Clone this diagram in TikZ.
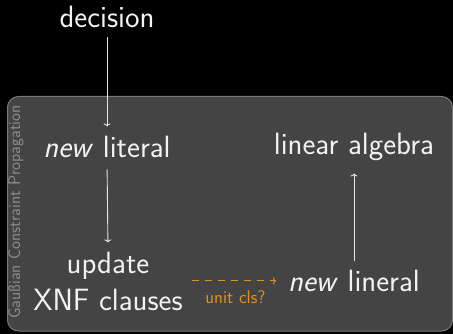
\documentclass[tikz,border=0pt]{standalone}
\usepackage{fontspec}
\usetikzlibrary{arrows.meta}
\definecolor{boxfill}{HTML}{444444}
\definecolor{boxline}{HTML}{7A7A7A}
\definecolor{txt}{HTML}{F2F2F2}
\definecolor{linecol}{HTML}{E6E6E6}
\definecolor{orng}{HTML}{E2901E}
\definecolor{sidecol}{HTML}{8C8C8C}
\tikzset{
  lbl/.style={inner sep=0pt, text=txt, font=\sffamily\fontsize{30.8}{37}\selectfont, align=center},
  conn/.style={draw=linecol, line width=0.9pt, -{To[length=3pt,width=7pt]}},
  dconn/.style={draw=orng, line width=0.9pt, dash pattern=on 7pt off 6pt, -{To[length=3pt,width=7pt]}},
  small/.style={inner sep=0pt, text=orng, font=\sffamily\fontsize{18.3}{21}\selectfont},
  side/.style={inner sep=0pt, text=sidecol, font=\sffamily\fontsize{16.9}{20}\selectfont, rotate=90}
}
\begin{document}
\begin{tikzpicture}[x=1pt,y=-1pt]
\fill[black] (0,0) rectangle (453,334);
\useasboundingbox (0,0) rectangle (453,334);
\draw[fill=boxfill, draw=boxline, line width=1pt, rounded corners=11pt] (7.5,96.5) rectangle (452.5,331);
\node[side] (side) at (16,212) {Gaußian Constraint Propagation};
\node[lbl, anchor=base] (dec) at (107,28) {decision};
\node[lbl, anchor=base] (lit) at (107,158) {\textit{new} literal};
\node[lbl, anchor=base] (upd) at (108,310) {update\\XNF clauses};
\node[lbl, anchor=base] (nl) at (354,291) {\textit{new} lineral};
\node[lbl, anchor=base] (la) at (354,155) {linear algebra};
\draw[conn, shorten <=9pt, shorten >=10pt] (dec.south) -- (lit.north);
\draw[conn, shorten <=11pt, shorten >=9pt] (lit.south) -- (upd.north);
\draw[dconn, shorten <=9pt, shorten >=12pt] (upd.east) -- node[small, below=9pt] (uc) {unit cls?} (upd.east -| nl.west);
\draw[conn, shorten <=8pt, shorten >=12pt] (nl.north) -- (la.south);
\end{tikzpicture}
\end{document}
